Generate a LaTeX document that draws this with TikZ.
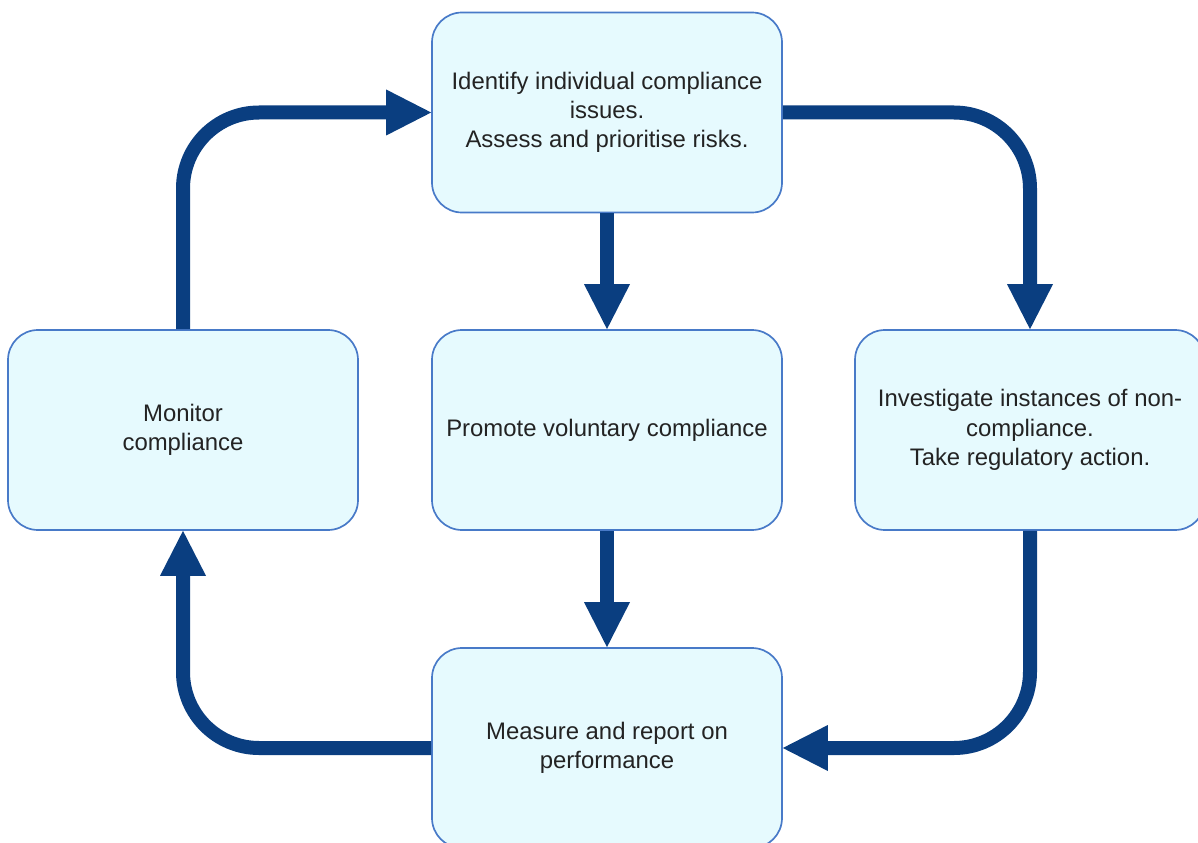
\documentclass[tikz,border=0pt]{standalone}
\usepackage{fontspec}
\setmainfont{Liberation Sans}
\usetikzlibrary{
    positioning,
    arrows.meta
}
\definecolor{BoxFill}{RGB}{230,250,254}
\definecolor{BoxLine}{RGB}{72,122,200}
\definecolor{FlowBlue}{RGB}{10,62,128}
\definecolor{TextGray}{RGB}{35,35,35}

\begin{document}
\begin{tikzpicture}[
            font=\fontsize{17}{20.8}\selectfont,
            >={Triangle[length=1.125cm, width=1.15cm, line width=0pt]},
            stage/.style={rectangle, draw=BoxLine, line width=1.2pt, fill=BoxFill, rounded corners=0.75cm, minimum width=8.75cm, minimum height=5cm, inner sep=0pt, align=center, text=TextGray},
            flow/.style={->, FlowBlue, line width=0.35cm, rounded corners=1.9cm},
        ]
        \useasboundingbox (0,0) rectangle (29.95,-21.075);

        % ===== STAGES =====
        \node[stage] (ident) at (15.175,-2.8125) {Identify individual compliance\\issues.\\Assess and prioritise risks.};
        \node[stage] (monitor) at (4.575,-10.75) {Monitor\\compliance};
        \node[stage] (promote) at (15.175,-10.75) {Promote voluntary compliance};
        \node[stage] (invest) at (25.75,-10.75) {Investigate instances of non-\\compliance.\\Take regulatory action.};
        \node[stage] (measure) at (15.175,-18.7) {Measure and report on\\performance};

        % ===== FLOWS =====
        \draw[flow] (ident) -- (promote);
        \draw[flow] (promote) -- (measure);
        \draw[flow] (ident.east) -| (invest.north);
        \draw[flow] (invest.south) |- (measure.east);
        \draw[flow] (measure.west) -| (monitor.south);
        \draw[flow] (monitor.north) |- (ident.west);
        \end{tikzpicture}
\end{document}
